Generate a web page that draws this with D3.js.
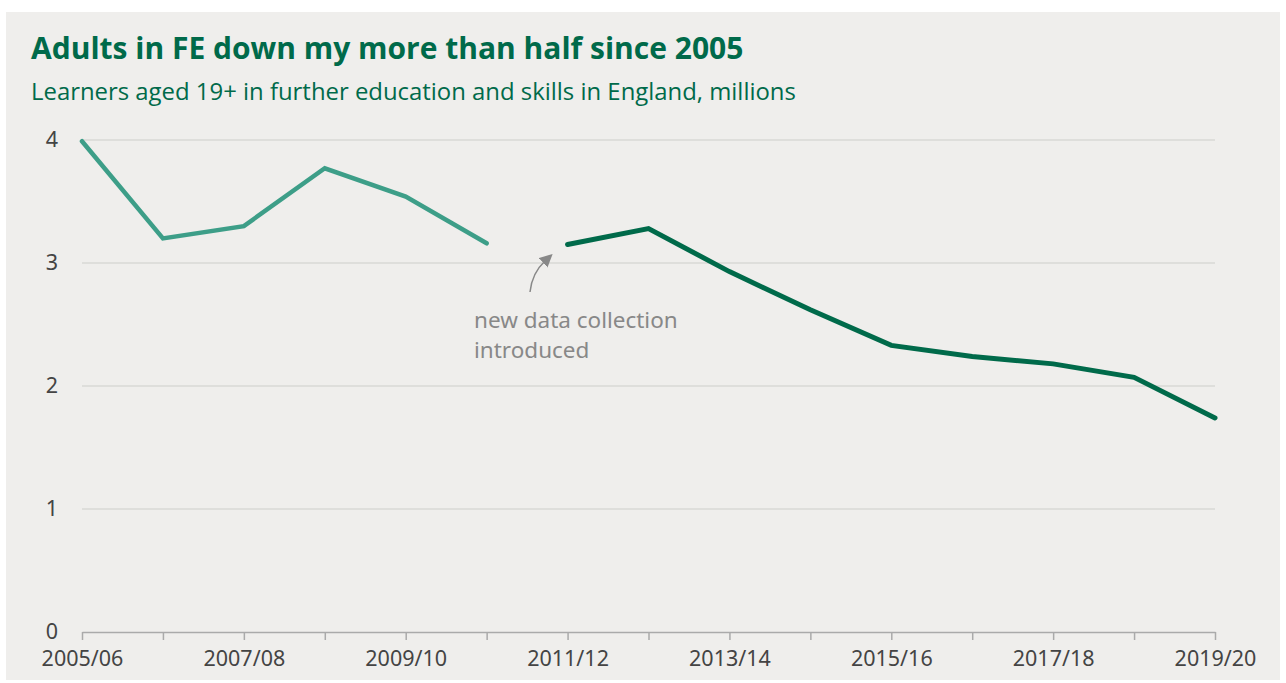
<!DOCTYPE html>
<html>
<head>
<meta charset="utf-8">
<script src="https://cdn.jsdelivr.net/npm/d3@7"></script>
<style>
  body { margin: 0; background: #fff; }
  svg { display: block; }
</style>
</head>
<body>
<div id="chart"></div>
<script>
// learner numbers, millions
const years = ['2005/06','2006/07','2007/08','2008/09','2009/10','2010/11','2011/12',
  '2012/13','2013/14','2014/15','2015/16','2016/17','2017/18','2018/19','2019/20'];
const oldYears = years.slice(0, 6);
const oldValues = [3.99, 3.20, 3.30, 3.77, 3.54, 3.16];
const newYears = years.slice(6);
const newValues = [3.15, 3.28, 2.93, 2.62, 2.33, 2.24, 2.18, 2.07, 1.74];
const yTicks = [0, 1, 2, 3, 4];

const W = 1286, H = 683;
const margin = {left: 82, right: 71, top: 140, bottom: 51};

const svg = d3.select('#chart').append('svg')
  .attr('width', W).attr('height', H);

// panel
svg.append('rect')
  .attr('x', 6).attr('y', 12)
  .attr('width', 1274).attr('height', 668)
  .attr('fill', '#efeeec');

svg.append('text')
  .attr('x', 31).attr('y', 59)
  .style('font-family', 'Open Sans, sans-serif')
  .style('font-weight', 700)
  .style('font-size', '30px')
  .attr('fill', '#006a4a')
  .text('Adults in FE down my more than half since 2005');

svg.append('text')
  .attr('x', 31).attr('y', 100)
  .style('font-family', 'Open Sans, sans-serif')
  .style('font-size', '23.9px')
  .attr('fill', '#006a4a')
  .text('Learners aged 19+ in further education and skills in England, millions');

const x = d3.scalePoint().domain(years).range([margin.left, W - margin.right]);
const y = d3.scaleLinear().domain([0, 4]).range([H - margin.bottom, margin.top]);

// gridlines
svg.append('g')
  .selectAll('line')
  .data(yTicks.filter(d => d > 0))
  .join('line')
  .attr('x1', margin.left).attr('x2', W - margin.right)
  .attr('y1', d => y(d)).attr('y2', d => y(d))
  .attr('stroke', '#d9d8d6')
  .attr('stroke-width', 1.5);

// y labels
svg.append('g')
  .selectAll('text')
  .data(yTicks)
  .join('text')
  .attr('x', 58)
  .attr('y', d => y(d) - 1)
  .attr('dy', '0.35em')
  .attr('text-anchor', 'end')
  .style('font-family', 'Noto Sans, sans-serif')
  .style('font-size', '21.5px')
  .attr('fill', '#444')
  .text(d => d);

// x axis
const xAxis = svg.append('g')
  .attr('transform', `translate(0, ${y(0)})`)
  .call(d3.axisBottom(x)
    .tickSize(8)
    .tickSizeOuter(0)
    .tickFormat((d, i) => i % 2 === 0 ? d : ''));
xAxis.select('.domain').attr('stroke', '#aaa').attr('stroke-width', 1.5);
xAxis.selectAll('.tick line').attr('stroke', '#aaa').attr('stroke-width', 1.5).attr('y1', 0);
xAxis.selectAll('.tick text')
  .attr('y', 19)
  .attr('dy', '0.71em')
  .style('font-family', 'Noto Sans, sans-serif')
  .style('font-size', '21.5px')
  .attr('fill', '#444');

const line = d3.line().x(d => x(d[0])).y(d => y(d[1]));

svg.append('path')
  .datum(oldYears.map((d, i) => [d, oldValues[i]]))
  .attr('d', line)
  .attr('fill', 'none')
  .attr('stroke', '#3d9e88')
  .attr('stroke-width', 4.5)
  .attr('stroke-linecap', 'round');

svg.append('path')
  .datum(newYears.map((d, i) => [d, newValues[i]]))
  .attr('d', line)
  .attr('fill', 'none')
  .attr('stroke', '#006a4a')
  .attr('stroke-width', 5)
  .attr('stroke-linecap', 'round');

// annotation
svg.append('defs').append('marker')
  .attr('id', 'arrow')
  .attr('viewBox', '0 0 10 10')
  .attr('refX', 2).attr('refY', 5)
  .attr('markerWidth', 13).attr('markerHeight', 13)
  .attr('markerUnits', 'userSpaceOnUse')
  .attr('orient', 'auto')
  .append('path')
  .attr('d', 'M0,0 L10,5 L0,10 Z')
  .attr('fill', '#888');

svg.append('path')
  .attr('d', 'M530,292 Q532,273 545,261')
  .attr('fill', 'none')
  .attr('stroke', '#888')
  .attr('stroke-width', 1.5)
  .attr('marker-end', 'url(#arrow)');

const note = svg.append('text')
  .style('font-family', 'Noto Sans, sans-serif')
  .style('font-size', '22.5px')
  .attr('fill', '#888');
note.append('tspan').attr('x', 474).attr('y', 328).text('new data collection');
note.append('tspan').attr('x', 474).attr('y', 358).text('introduced');
</script>
</body>
</html>
